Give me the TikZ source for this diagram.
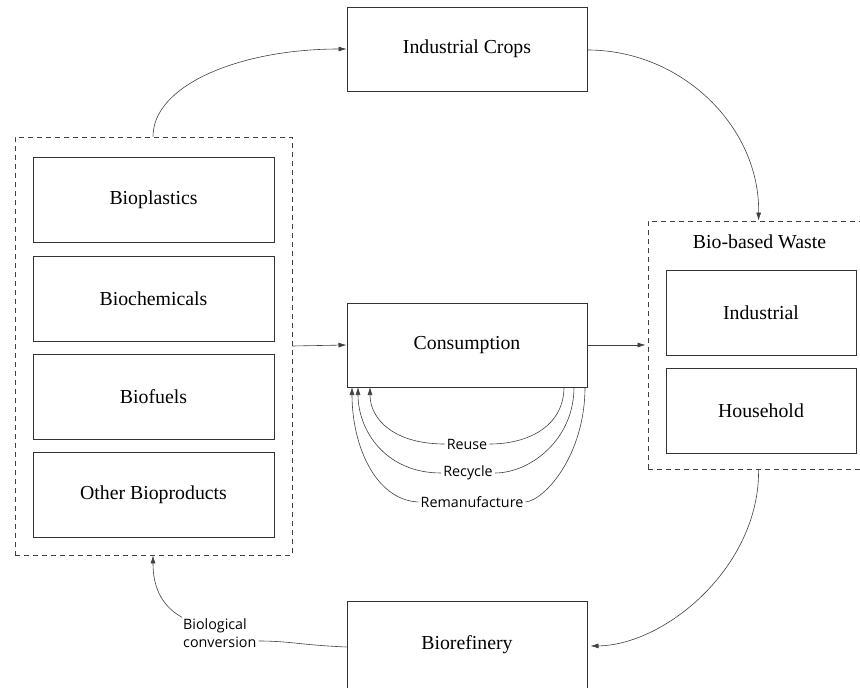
\documentclass[tikz,border=0pt]{standalone}
\usepackage{fontspec}
\setmainfont{Liberation Serif}
\newfontfamily\lblfont{Open Sans}
\usetikzlibrary{arrows.meta}
\begin{document}
\begin{tikzpicture}[x=1pt,y=-1pt,
  box/.style={draw=black!80,line width=1pt,minimum width=240pt,minimum height=84pt,
    inner sep=0pt,font=\fontsize{19.8}{23}\selectfont},
  itembox/.style={box,minimum width=241pt,minimum height=85pt},
  wbox/.style={box,minimum width=190pt,minimum height=85pt},
  group/.style={draw=black!75,line width=0.9pt,dash pattern=on 5pt off 4pt,inner sep=0pt},
  flow/.style={draw=black!75,line width=0.6pt},
  tip/.style={-{Latex[length=8pt,width=5pt]}},
  lbl/.style={font=\lblfont\fontsize{14.3}{18}\selectfont,inner sep=2pt}]
\useasboundingbox (0,0) rectangle (860,688);
\clip (0,0) rectangle (860,688);

% main process boxes
\node[box] (crops) at (467,49) {Industrial Crops};
\node[box] (cons) at (467,345) {Consumption};
\node[box,minimum height=90pt] (bref) at (467,646) {};
\node[font=\fontsize{19.8}{23}\selectfont] (breftxt) at (467,645) {Biorefinery};

% bioproducts group
\node[group,minimum width=277pt,minimum height=418pt] (prod) at (153.5,346) {};
\node[itembox] (bplast) at (153.5,199.5) {Bioplastics};
\node[itembox] (bchem) at (153.5,298.5) {Biochemicals};
\node[itembox] (bfuel) at (153.5,396.5) {Biofuels};
\node[itembox] (bother) at (153.5,494.5) {Other Bioproducts};

% bio-based waste group
\node[group,minimum width=227pt,minimum height=248pt] (waste) at (761.5,345) {};
\node[font=\fontsize{19.8}{23}\selectfont] (wtitle) at (759.5,242) {Bio-based Waste};
\node[wbox] (wind) at (761,312.5) {Industrial};
\node[wbox] (whouse) at (761,410.5) {Household};

% attachment points on the groups
\coordinate (prodtop) at ([xshift=-0.5pt]prod.north);
\coordinate (prodbot) at ([xshift=-0.5pt]prod.south);
\coordinate (wtop) at ([xshift=111pt]waste.north west);
\coordinate (wbot) at ([xshift=111pt]waste.south west);

% cycle connectors
\draw[flow,tip] (prodtop) .. controls (153,85) and (240,49) .. (crops.west);
\draw[flow,tip] ([yshift=-1pt]crops.east) .. controls (682,50) and (760,127) .. (wtop);
\draw[flow,tip] (wbot) .. controls (760,566) and (666,645) .. ([xshift=3pt]bref.west -| bref.east);
\draw[flow,tip] (prod.east) -- (cons.west);
\draw[flow,tip] (cons.east) -- ([xshift=-2pt]waste.west);

% biological conversion
\node[lbl,align=left,anchor=west] (bc) at (181,633) {Biological\\conversion};
\draw[flow] ([yshift=-1pt]bref.west) .. controls (300,645) and (290,641) .. ([yshift=-8pt]bc.east);
\draw[flow,tip] ([xshift=1pt,yshift=-1pt]bc.north west) .. controls (160,605) and (153,585) .. (prodbot);

% loops back into consumption
\node[lbl,fill=white] (reuse) at (467,444) {Reuse};
\node[lbl,fill=white] (recyc) at (468,473) {Recycle};
\node[lbl,fill=white] (reman) at (472,502) {Remanufacture};

\coordinate (s1) at (564,387);
\coordinate (s2) at (574,387);
\coordinate (s3) at (585,387);
\coordinate (e1) at (370,387);
\coordinate (e2) at (358,387);
\coordinate (e3) at (352,387);

\draw[flow] (s1) .. controls (564,425) and (530,444) .. (reuse.east);
\draw[flow,tip] (reuse.west) .. controls (395,444) and (370,420) .. (e1);
\draw[flow] (s2) .. controls (574,440) and (530,473) .. (recyc.east);
\draw[flow,tip] (recyc.west) .. controls (385,473) and (358,430) .. (e2);
\draw[flow] (s3) .. controls (585,455) and (545,500) .. (reman.east);
\draw[flow,tip] (reman.west) .. controls (375,500) and (352,445) .. (e3);
\end{tikzpicture}
\end{document}
